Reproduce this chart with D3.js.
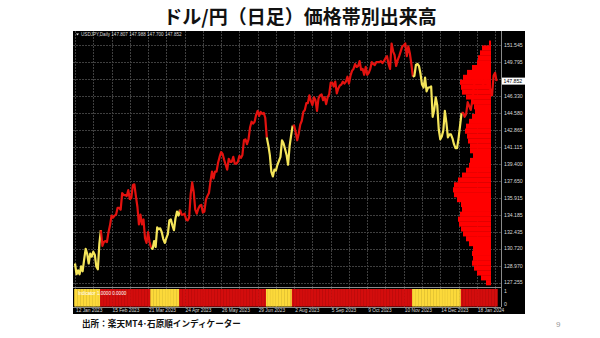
<!DOCTYPE html>
<html><head><meta charset="utf-8">
<script src="https://cdn.jsdelivr.net/npm/d3@7"></script>
<style>body{margin:0;background:#fff;} svg{display:block;}</style>
</head><body>
<svg id="c" width="600" height="338"></svg>
<script>
// ---------------- data ----------------
const title = "ドル/円（日足）価格帯別出来高";
const sourceText = "出所：楽天MT4･石原順インディケーター";
const pageNo = "9";
const symbolHeader = "USDJPY,Daily  147.807 147.988 147.700 147.852";
const indicatorText = "Indicator 1.0000 0.0000";

// daily closes from 12 Jan 2023
const closesJan23 = [129.2,128.1,128.5,128.1,128.9,128.4,129.6,130.7,130.2,129.2,130.2,129.9,130.4,130.1];
const closesFeb23 = [128.9,128.6,131.2,132.6,131.0,131.4,131.5,131.4,132.4,133.1,134.1,133.9,134.1,134.2,134.9,134.9,134.7,136.4,136.2,136.2];
const closesMar23 = [136.1,136.7,135.8,135.9,137.2,137.3,136.1,135.0,133.2,134.2,133.2,133.7,131.8,131.3,132.4,131.4,130.8,130.7,131.5,130.9,132.9,132.7,132.8];
const closesApr23 = [132.4,131.7,131.3,131.8,132.2,133.6,133.7,133.1,132.6,133.8,134.5,134.1,134.7,134.2,134.2,134.3,133.7,133.6,133.9,136.3];
const closesMay23 = [137.5,136.5,134.7,134.3,134.8,135.1,135.2,134.4,134.5,135.7,136.1,136.4,137.6,138.6,137.9,138.6,138.6,139.5,140.1,140.6,140.4,139.8,139.3];
const closesJun23 = [138.8,139.9,139.6,139.6,140.1,139.4,139.4,139.6,140.2,140.0,140.3,141.8,141.9,141.4,141.9,143.1,143.7,143.5,143.7,144.4,144.8,144.3];
const closesJul23 = [144.7,144.5,144.6,144.1,142.1,141.3,140.3,138.6,138.1,138.8,138.7,139.3,139.7,140.1,141.8,141.5,140.9,140.3,139.3,141.2,142.3];
const closesAug23 = [143.3,143.3,142.6,141.8,142.5,143.4,143.8,144.7,144.9,145.6,145.6,146.4,145.8,145.4,146.2,145.9,144.8,146.1,146.4,146.5,145.9,146.2,145.5];
const closesSep23 = [146.2,146.5,147.7,147.7,147.3,147.8,146.6,147.1,147.4,147.5,147.8,147.6,147.8,148.3,147.6,148.4,148.9,149.1,149.6,149.3,149.4];
const closesOct23 = [149.9,149.0,149.1,148.5,149.3,148.5,148.7,149.1,149.8,149.6,149.5,149.8,149.8,149.8,149.9,149.7,149.9,150.2,150.4,149.6,149.1,151.7];
const closesNov23 = [150.9,150.5,149.4,150.0,150.4,150.9,151.4,151.5,151.7,150.4,151.4,150.7,149.6,148.3,148.4,149.5,149.6,149.4,148.6,147.5,147.2,148.2];
const closesDec23 = [146.8,147.2,147.2,147.3,144.2,144.9,146.2,145.4,142.9,141.9,142.2,142.8,144.8,143.6,142.1,142.4,142.4,142.0,141.4,141.0];
const closesJan24 = [141.0,142.0,143.3,144.6,144.6,144.2,144.5,145.7,145.3,144.9,145.8,147.2,148.2,148.1,148.1,148.1,148.4,147.5,147.7,148.2,147.5,147.6,146.9];
const closesFeb24 = [146.4,148.4,148.7,147.852];

// regime indicator (1 = yellow, 0 = red), starting bar of each run
const regimeStart = [0,17,50,69,126,143,222,254];
const regimeState = [1,0,1,0,1,0,1,0];

// price axis labels
const yTicks = [151.545,149.795,148.060,146.330,144.580,142.865,141.115,139.400,137.650,135.915,134.185,132.435,130.720,128.970,127.255];
const lastPrice = 147.852;

// date axis labels
const xTickLabels = ["12 Jan 2023","15 Feb 2023","21 Mar 2023","24 Apr 2023","26 May 2023","29 Jun 2023","2 Aug 2023","5 Sep 2023","9 Oct 2023","10 Nov 2023","14 Dec 2023","18 Jan 2024"];

// volume profile (price level, relative volume)
const profilePrice = [151.75,151.25,150.75,150.25,149.75,149.25,148.75,148.25,147.75,147.25,146.75,146.25,145.75,145.25,144.75,144.25,143.75,143.25,142.75,142.25,141.75,141.25,140.75,140.25,139.75,139.25,138.75,138.25,137.75,137.25,136.75,136.25,135.75,135.25,134.75,134.25,133.75,133.25,132.75,132.25,131.75,131.25,130.75,130.25,129.75,129.25,128.75,128.25,127.75,127.25];
const profileVolume = [2,9,11,13,14,19,24,28,31,30,29,25,20,17,16,19,22,25,26,24,23,21,21,18,21,22,25,29,33,37,38,37,34,30,29,31,33,32,30,28,25,22,18,19,18,19,17,14,10,5];

// ---------------- build ----------------
const closes = [].concat(closesJan23,closesFeb23,closesMar23,closesApr23,closesMay23,closesJun23,closesJul23,closesAug23,closesSep23,closesOct23,closesNov23,closesDec23,closesJan24,closesFeb24);
// trading calendar (weekdays, broker skips 25 Dec)
const fmt = d3.timeFormat("%-d %b %Y");
const dates = [];
for (let d = new Date(2023,0,12); dates.length < closes.length; d = d3.timeDay.offset(d,1)) {
  const wd = d.getDay();
  if (wd === 0 || wd === 6) continue;
  if (fmt(d) === "25 Dec 2023") continue;
  dates.push(d);
}
const dateIdx = new Map(dates.map((d,i)=>[fmt(d),i]));
const stateAt = i => { let s = regimeState[0]; regimeStart.forEach((b,k)=>{ if (i>=b) s = regimeState[k]; }); return s; };

const C = {
  bg:"#000", grid:"#3f3f3f", axis:"#8a8a8a", text:"#d8d8d8",
  red:"#e3120f", yellow:"#f4e55a", subRed:"#d30d0d", subYellow:"#fcd93a", hist:"#ff0000"
};

const svg = d3.select("#c");
const L = 73, R = 525, T = 31, B = 314;
const plotR = 501, mainB = 287, subT = 288, subB = 307;

svg.append("text").attr("x",300).attr("y",24).attr("text-anchor","middle")
  .attr("font-family","'Noto Sans CJK JP'").attr("font-weight",700).attr("font-size",19)
  .attr("fill","#111").text(title);

svg.append("rect").attr("x",L).attr("y",T).attr("width",R-L).attr("height",B-T).attr("fill",C.bg);

const x = d3.scaleLinear().domain([0,277]).range([75,496.6]);
const y = d3.scaleLinear().domain([126.795,152.977]).range([mainB,T]);

// grid
const g = svg.append("g");
const vGrid = d3.range(0, closes.length, 12);
g.selectAll("line.v").data(vGrid).join("line")
  .attr("x1",d=>Math.round(x(d))+0.5).attr("x2",d=>Math.round(x(d))+0.5)
  .attr("y1",T).attr("y2",mainB).attr("stroke",C.grid).attr("stroke-width",1).attr("stroke-dasharray","2,1");
g.selectAll("line.vs").data(vGrid).join("line")
  .attr("x1",d=>Math.round(x(d))+0.5).attr("x2",d=>Math.round(x(d))+0.5)
  .attr("y1",subT).attr("y2",subB).attr("stroke",C.grid).attr("stroke-width",1).attr("stroke-dasharray","2,1");
g.selectAll("line.h").data(yTicks).join("line")
  .attr("x1",L).attr("x2",plotR).attr("y1",d=>Math.round(y(d))+0.5).attr("y2",d=>Math.round(y(d))+0.5)
  .attr("stroke",C.grid).attr("stroke-width",1).attr("stroke-dasharray","2,1");

// price line, coloured by regime
const line = d3.line().x(d=>x(d.i)).y(d=>y(d.v));
const pts = closes.map((v,i)=>({i,v}));
regimeStart.forEach((b,k)=>{
  const e = k+1 < regimeStart.length ? regimeStart[k+1] : closes.length-1;
  svg.append("path").datum(pts.slice(b, e+1)).attr("d",line).attr("fill","none")
    .attr("stroke", regimeState[k] ? C.yellow : C.red).attr("stroke-width",2.2).attr("stroke-linejoin","round");
});

// volume profile
const hx = d3.scaleLinear().domain([0,d3.max(profileVolume)]).range([0,38]);
const histR = 491;
svg.append("g").selectAll("rect").data(profilePrice).join("rect")
  .attr("x",(p,i)=>histR-hx(profileVolume[i])).attr("width",(p,i)=>hx(profileVolume[i]))
  .attr("y",p=>y(p+0.25)).attr("height",p=>y(p-0.25)-y(p+0.25)+0.3)
  .attr("fill",C.hist);

// sub-panel regime bars
svg.append("g").selectAll("rect").data(closes.map((v,i)=>i)).join("rect")
  .attr("x",i=>x(i)-0.8).attr("width",1.9).attr("y",subT+1).attr("height",subB-subT-1.5)
  .attr("fill",i=>stateAt(i) ? C.subYellow : C.subRed);

// frames
svg.append("line").attr("x1",plotR+0.5).attr("x2",plotR+0.5).attr("y1",T).attr("y2",subB).attr("stroke",C.axis);
svg.append("line").attr("x1",L).attr("x2",plotR).attr("y1",mainB+0.5).attr("y2",mainB+0.5).attr("stroke",C.axis);
svg.append("line").attr("x1",L).attr("x2",plotR).attr("y1",subB+0.5).attr("y2",subB+0.5).attr("stroke",C.axis);

// price axis labels
const ax = svg.append("g").attr("font-family","'Liberation Sans'").attr("font-size",5.2).attr("fill",C.text);
ax.selectAll("text").data(yTicks.filter(v=>Math.abs(v-lastPrice)>0.6)).join("text")
  .attr("x",504).attr("y",d=>y(d)+1.8).text(d=>d.toFixed(3));
svg.append("rect").attr("x",plotR+1).attr("y",y(lastPrice)-3.5).attr("width",24).attr("height",7).attr("fill","#fff");
svg.append("text").attr("x",503.5).attr("y",y(lastPrice)+1.8).attr("font-family","'Liberation Sans'")
  .attr("font-size",5.2).attr("fill","#000").text(lastPrice.toFixed(3));

// sub-panel scale labels
ax.append("text").attr("x",504).attr("y",subT+4.5).text("1");
ax.append("text").attr("x",504).attr("y",subB-1.5).text("0");

// date labels
svg.append("g").attr("font-family","'Liberation Sans'").attr("font-size",4.8).attr("fill",C.text)
  .selectAll("text").data(xTickLabels).join("text")
  .attr("x",d=>x(dateIdx.get(d))+1).attr("y",312).text(d=>d);

// headers
svg.append("path").attr("d",`M76,33.5 L79,33.5 L77.5,35.5 Z`).attr("fill","#ddd");
svg.append("text").attr("x",81).attr("y",36).attr("font-family","'Liberation Sans'").attr("font-size",4.6)
  .attr("fill",C.text).text(symbolHeader);
svg.append("text").attr("x",78).attr("y",294.5).attr("font-family","'Liberation Sans'").attr("font-size",4.6)
  .attr("fill","#fff").text(indicatorText);

// footer
svg.append("text").attr("x",82).attr("y",327).attr("font-family","'Noto Sans CJK JP'").attr("font-weight",700)
  .attr("font-size",8.6).attr("fill","#111").text(sourceText);
svg.append("text").attr("x",556).attr("y",327).attr("font-family","'Liberation Sans'").attr("font-size",8)
  .attr("fill","#999").text(pageNo);
</script>
</body></html>
